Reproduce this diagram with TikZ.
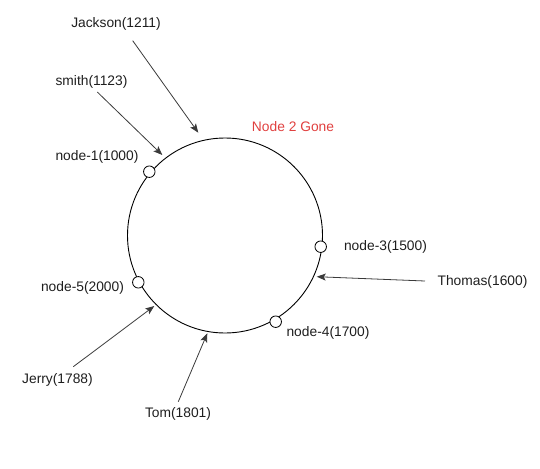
\documentclass[tikz,border=0pt]{standalone}
\usepackage{fontspec}
\setmainfont{Liberation Sans}
\usetikzlibrary{arrows.meta}
\definecolor{txt}{HTML}{1E1E1E}
\definecolor{gone}{HTML}{E0403F}
\definecolor{arr}{HTML}{3A3A3A}
\begin{document}
\begin{tikzpicture}[x=1pt,y=-1pt,
  lbl/.style={font=\fontsize{13.8}{16}\selectfont, text=txt, inner sep=0pt},
  ring/.style={circle, draw=black, line width=0.9pt, minimum size=195pt, inner sep=0pt},
  vnode/.style={circle, draw=black, fill=white, line width=0.8pt, minimum size=11.5pt, inner sep=0pt},
  ptr/.style={draw=arr, line width=0.8pt, -{Stealth[length=9pt,width=7pt,inset=2pt]}}]
\useasboundingbox (0,0) rectangle (540,468);
\node[ring] (ring) at (225,235.5) {};
\node[vnode] (n1) at (149.3,171.7) {};
\node[vnode] (n3) at (320.7,246.7) {};
\node[vnode] (n4) at (275.7,321.7) {};
\node[vnode] (n5) at (138.3,282.3) {};
\node[lbl] (l1) at (97,157) {node-1(1000)};
\node[lbl] (l3) at (385.5,247) {node-3(1500)};
\node[lbl] (l4) at (328,333) {node-4(1700)};
\node[lbl] (l5) at (82.5,288) {node-5(2000)};
\node[lbl, text=gone] (gone) at (293,127) {Node 2 Gone};
\node[lbl] (jackson) at (116,24) {Jackson(1211)};
\node[lbl] (smith) at (91.5,82) {smith(1123)};
\node[lbl] (thomas) at (482.5,282) {Thomas(1600)};
\node[lbl] (jerry) at (57.5,380) {Jerry(1788)};
\node[lbl] (tom) at (178,414) {Tom(1801)};
\coordinate (jackS) at (132.7,40.7);
\coordinate (jackT) at (198.3,132.7);
\coordinate (smithS) at (97.3,92);
\coordinate (smithT) at (162.3,155);
\coordinate (thomasS) at (425,281);
\coordinate (thomasT) at (316.7,276.7);
\coordinate (jerryS) at (73.3,366.7);
\coordinate (jerryT) at (154.3,306);
\coordinate (tomS) at (178.3,401.7);
\coordinate (tomT) at (207.3,333.3);
\draw[ptr] (jackS) -- (jackT);
\draw[ptr] (smithS) -- (smithT);
\draw[ptr] (thomasS) -- (thomasT);
\draw[ptr] (jerryS) -- (jerryT);
\draw[ptr] (tomS) -- (tomT);
\end{tikzpicture}
\end{document}
